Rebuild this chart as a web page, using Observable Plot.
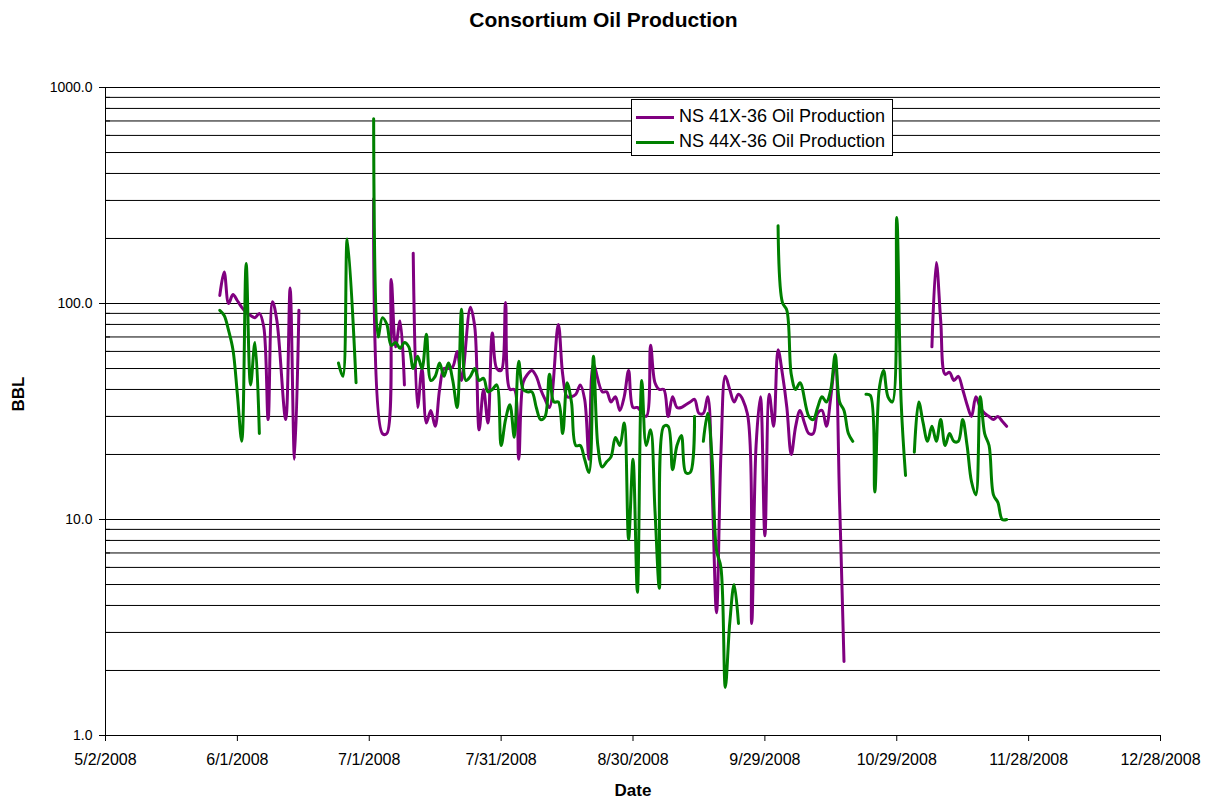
<!DOCTYPE html>
<html>
<head>
<meta charset="utf-8">
<script src="https://cdn.jsdelivr.net/npm/d3@7"></script>
<script src="https://cdn.jsdelivr.net/npm/@observablehq/plot@0.6"></script>
<style>
  html, body { margin: 0; padding: 0; background: #fff; }
  body { width: 1217px; height: 804px; position: relative; font-family: "Liberation Sans", Arial, sans-serif; }
  #title { height: 40px; line-height: 40px; text-align: center; font-weight: bold; font-size: 21px; padding-right: 10px; }
  #legend { position: absolute; left: 631px; top: 99px; width: 260px; height: 55px; border: 1px solid #000; background: #fff; font-size: 18px; }
  .row { position: absolute; left: 4px; height: 22px; line-height: 22px; white-space: nowrap; }
  .sw { display: inline-block; width: 38px; height: 3px; vertical-align: middle; margin-right: 5px; }
</style>
</head>
<body>
<div id="title">Consortium Oil Production</div>
<div id="chart"></div>
<div id="legend">
  <div class="row" style="top:5px"><span class="sw" style="background:#800080"></span>NS 41X-36 Oil Production</div>
  <div class="row" style="top:30px"><span class="sw" style="background:#008000"></span>NS 44X-36 Oil Production</div>
</div>
<script>
// ---- data (M/D in 2008; null marks a gap) ----
const dates41 = [
  "5/28","5/29","5/30","5/31","6/1","6/2","6/3","6/4","6/5","6/6","6/7","6/8","6/9","6/10","6/12","6/13","6/14","6/15", null,
  "7/2","7/4","7/5","7/6","7/7","7/8","7/9", null,
  "7/11","7/12","7/13","7/14","7/15","7/16","7/17","7/18","7/19","7/20","7/21","7/22","7/24","7/25","7/26","7/27","7/28","7/29","7/30","7/31",
  "8/1","8/2","8/3","8/4","8/5","8/6","8/7","8/8","8/9","8/10","8/11","8/13","8/14","8/15","8/16","8/17","8/18","8/19","8/20","8/21","8/23","8/24","8/25","8/26","8/27","8/28","8/29","8/30","8/31",
  "9/2","9/3","9/4","9/5","9/6","9/7","9/8","9/9","9/10","9/11","9/12","9/13","9/14","9/15","9/16","9/17","9/18","9/19","9/20","9/21","9/22","9/23","9/25","9/26","9/27","9/28","9/29","9/30",
  "10/1","10/2","10/3","10/4","10/5","10/6","10/7","10/8","10/9","10/10","10/11","10/12","10/13","10/14","10/15","10/16","10/17", null,
  "11/6","11/7","11/8","11/9","11/10","11/11","11/12","11/13","11/14","11/15","11/16","11/17","11/18","11/19","11/20","11/21","11/22","11/23"
];
const oil41 = [
  109,140,100,110,103,96,91,88,86,90,78,29,102,83,29,118,19,93, null,
  305,25,25,129,63,83,42, null,
  171,33,50,28,32,27,40,50,50,51,60,44,96,78,26,40,28,73,50,49,
  101,40,40,19,43,47,49,46,40,36,33,80,47,37,37,38,42,36,19,52,39,39,35,37,32,37,49,33,33,
  30,64,43,40,40,30,37,33,33,34,35,36,31,31,37,14,3.7,20,46,40,35,38,31,3.3,22,37,8.4,38,
  27,61,47,33,20,27,32,28,25,25,31,32,27,37,53,12,2.2, null,
  63,155,83,47,48,44,46,40,34,30,37,33,31,30,29,30,28.5,27
];

const dates44 = [
  "5/28","5/29","5/30","5/31","6/1","6/2","6/3","6/4","6/5","6/6", null,
  "6/24","6/25","6/26","6/28", null,
  "7/2","7/3","7/4","7/5","7/6","7/7","7/8","7/9","7/10","7/11","7/12","7/13","7/14","7/15","7/16","7/17","7/18","7/19","7/20","7/21","7/22","7/23","7/24","7/25","7/26","7/27","7/28","7/29","7/30","7/31",
  "8/1","8/2","8/3","8/4","8/5","8/6","8/7","8/8","8/9","8/10","8/11","8/12","8/13","8/14","8/15","8/16","8/17","8/18","8/19","8/20","8/21","8/22","8/23","8/24","8/25","8/26","8/27","8/28","8/29","8/30","8/31",
  "9/1","9/2","9/3","9/4","9/5","9/6","9/7","9/8","9/9","9/10","9/11","9/12","9/13", null,
  "9/15","9/16","9/17","9/18","9/19","9/20","9/21","9/22","9/23", null,
  "10/2","10/3","10/4","10/5","10/6","10/7","10/9","10/10","10/11","10/12","10/13","10/14","10/15","10/16","10/17","10/18","10/19", null,
  "10/22","10/23","10/24","10/25","10/26","10/27","10/28","10/29","10/30","10/31", null,
  "11/2","11/3","11/4","11/5","11/6","11/7","11/8","11/9","11/10","11/11","11/12","11/13","11/14","11/15","11/16","11/17","11/18","11/19","11/20","11/21","11/22","11/23"
];
const oil44 = [
  93,88,75,61,38,23,153,42,66,25, null,
  53,46,199,43, null,
  716,70,86,80,64,66,62,66,63,50,57,50,72,44,46,53,46,53,44,33,94,44,46,50,44,45,39,40,42,22,
  29,34,24,54,40,39,39,33,29,30,47,35,35,25,43,35,22,22,19,16.5,57,22,17.5,18.5,19.5,24,22,28,8.1,19,4.6,
  44,22,26,11,4.8,27,27,17,22,24.5,16.5,16.5,30, null,
  23,31,19,7.2,6.0,1.67,3.3,5.0,3.3, null,
  229,101,93,47,40,43,30,29,33,37,35,40,58,35,32,25,23, null,
  38,37.5,13.4,40,49,37,35,250,35,16, null,
  20.5,35,28,23,27,23,29,22,25,23,23,29,22,15,13,37,25,22,13,12,10,10
];

const xTicks = ["5/2","6/1","7/1","7/31","8/30","9/29","10/29","11/28","12/28"];
const yMajor = [1, 10, 100, 1000];
const yGrid = [2,3,4,5,6,7,8,9,10,20,30,40,50,60,70,80,90,100,200,300,400,500,600,700,800,900,1000];
const yMinor = [2,3,4,5,6,7,8,9,20,30,40,50,60,70,80,90,200,300,400,500,600,700,800,900];

const parse = s => s == null ? null : d3.utcParse("%m/%d/%Y")(s + "/2008");
const rows = (ds, vs) => ds.map((d, i) => ({date: parse(d), oil: vs[i]}));
const r41 = rows(dates41, oil41);
const r44 = rows(dates44, oil44);

const W = 1217, H = 764;
const chart = Plot.plot({
  width: W, height: H,
  marginLeft: 105, marginRight: 57, marginTop: 47, marginBottom: 69,
  style: {fontFamily: "'Liberation Sans', Arial, sans-serif", fontSize: "14px", background: "#fff", color: "#000"},
  x: {type: "utc", domain: [parse("5/2"), parse("12/28")]},
  y: {type: "log", domain: [1, 1000]},
  marks: [
    Plot.ruleY(yGrid, {stroke: "#000", strokeWidth: 1}),
    Plot.ruleX([parse("5/2")], {stroke: "#000", strokeWidth: 1}),
    Plot.ruleY([1], {stroke: "#000", strokeWidth: 1}),
    Plot.tickY(yMinor, {insetRight: 1050, stroke: "#000"}),
    Plot.axisY(yMajor, {tickSize: 6, tickPadding: 7, tickFormat: d3.format(".1f"), label: null, fontSize: 14}),
    Plot.axisX(xTicks.map(parse), {tickSize: 6, tickPadding: 12, tickFormat: d3.utcFormat("%-m/%-d/%Y"), label: null, fontSize: 16}),
    Plot.line(r41, {x: "date", y: "oil", stroke: "#800080", strokeWidth: 3, curve: "catmull-rom"}),
    Plot.line(r44, {x: "date", y: "oil", stroke: "#008000", strokeWidth: 3, curve: "catmull-rom"}),
    Plot.text(["BBL"], {frameAnchor: "left", dx: -87, rotate: -90, fontWeight: "bold", fontSize: 17}),
    Plot.text(["Date"], {frameAnchor: "bottom", dy: 60, fontWeight: "bold", fontSize: 17})
  ]
});
document.getElementById("chart").appendChild(chart);
</script>
</body>
</html>
